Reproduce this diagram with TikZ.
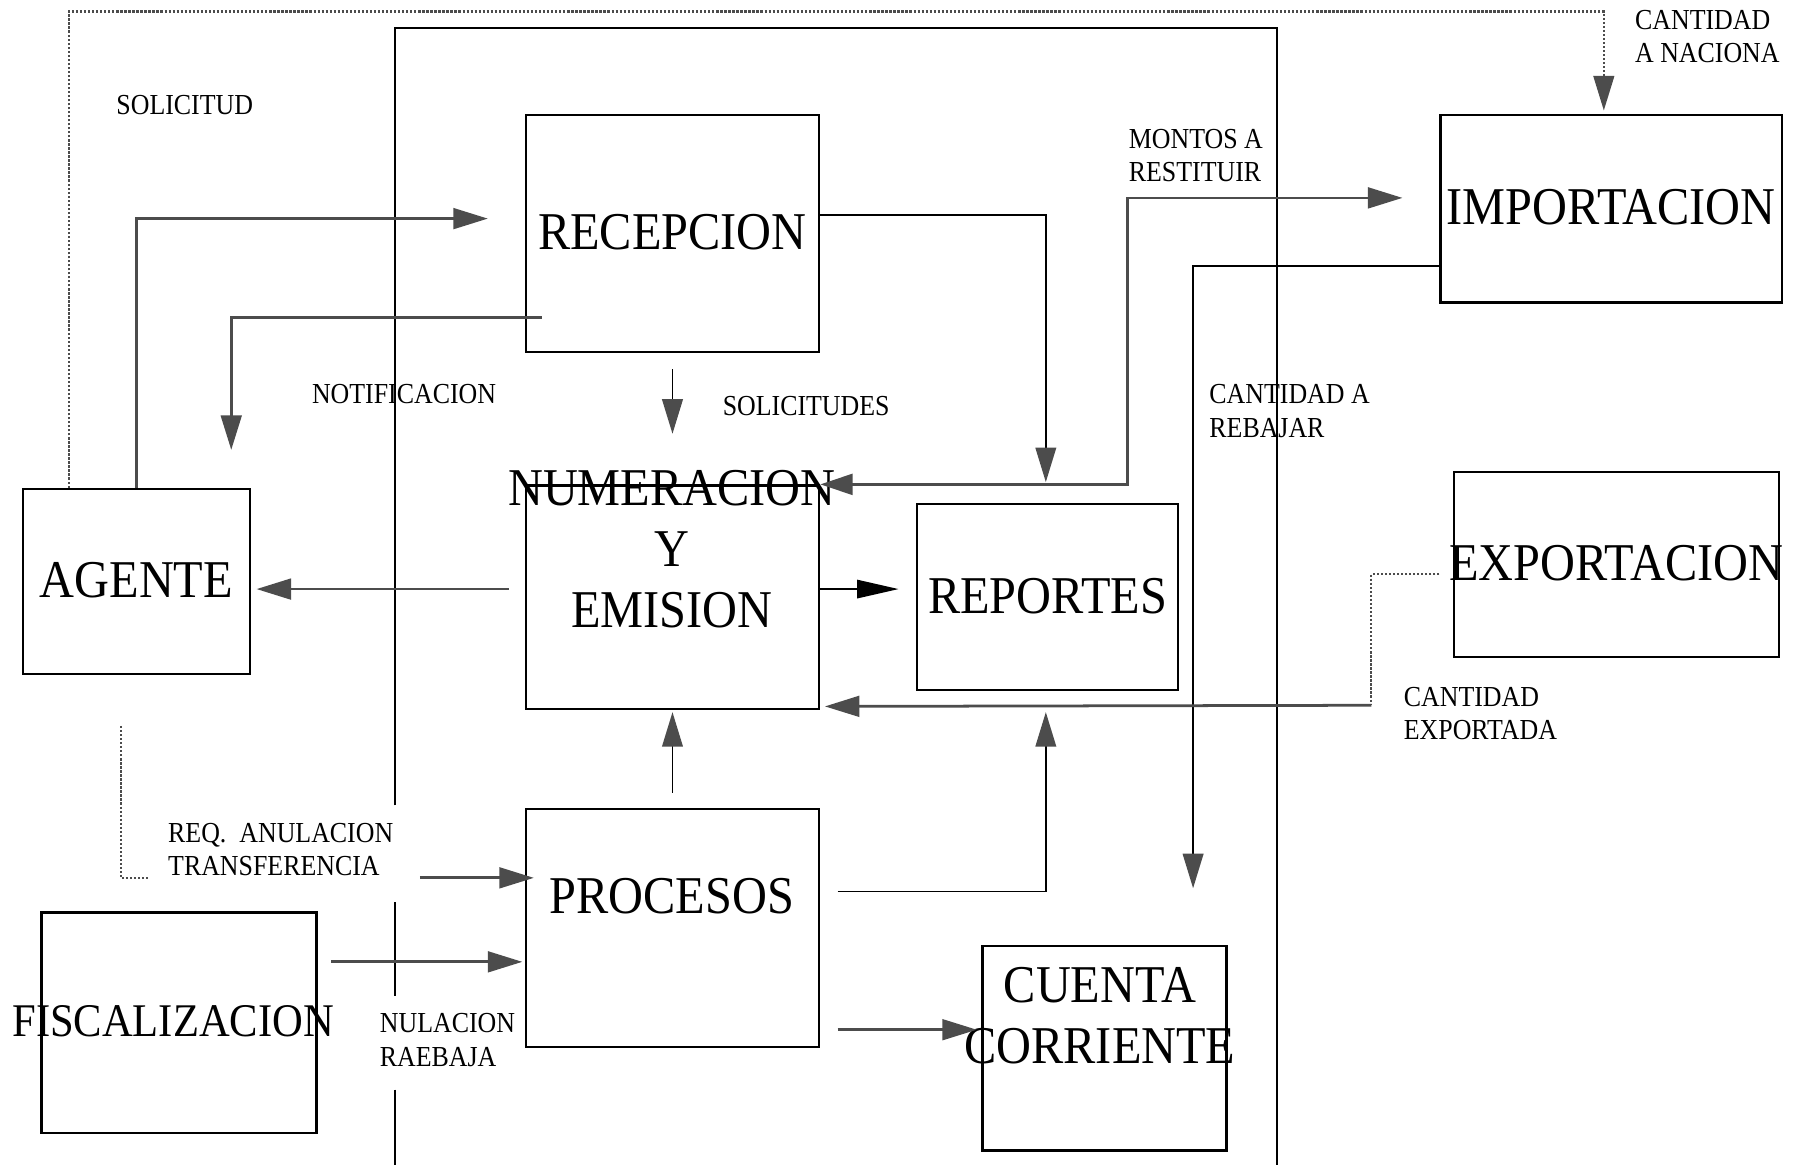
\documentclass[tikz,border=0pt]{standalone}
\usepackage{fontspec}
\setmainfont{Liberation Serif}
\usetikzlibrary{arrows.meta, calc}

\newcommand{\boxtext}[1]{\makebox[0pt]{\scalebox{1}[1.1]{\begin{tabular}{@{}c@{}}#1\end{tabular}}}}
\newcommand{\flowtext}[1]{\scalebox{1}[1.12]{\begin{tabular}{@{}l@{}}#1\end{tabular}}}

\begin{document}
\begin{tikzpicture}[x=1pt, y=-1pt,
  blk/.style={draw, line width=2pt, inner sep=0pt, text depth=13pt, font=\fontsize{42}{48}\selectfont},
  blktxt/.style={inner sep=0pt, yshift=-5pt, font=\fontsize{42}{48}\selectfont},
  lbl/.style={anchor=west, inner sep=0pt, yshift=-3pt, font=\fontsize{22.5}{26}\selectfont},
  frame/.style={draw, line width=1.6pt},
  flow/.style={draw=black!70, line width=2.4pt, -{Triangle[length=30pt, width=18pt]}},
  plain/.style={draw, line width=1.4pt},
  gtip/.style={-{Triangle[length=30pt, width=18pt, color=black!70]}},
  dots/.style={draw=black!70, line width=1.8pt, dash pattern=on 2pt off 1.5pt}
]
  \fill[white] (0,0) rectangle (1568,1013);
  \useasboundingbox (0,0) rectangle (1568,1013);

  % outer frame
  \draw[frame] (343,700) -- (343,24) -- (1110,24) -- (1110,1013);
  \draw[frame] (343,784) -- (343,866);
  \draw[frame] (343,947) -- (343,1013);

  % boxes
  \node[blk, minimum width=197pt, minimum height=161pt] (agente) at (118.5,505.5) {\boxtext{AGENTE}};
  \node[blk, minimum width=255pt, minimum height=206pt] (recepcion) at (584.5,203) {\boxtext{RECEPCION}};
  \node[blk, minimum width=255pt, minimum height=194pt] (numeracion) at (584.5,519) {};
  \node[blktxt] (numeracion-t) at (584,477) {\boxtext{NUMERACION\\Y\\EMISION}};
  \node[blk, minimum width=227pt, minimum height=162pt] (reportes) at (910.5,519) {\boxtext{REPORTES}};
  \node[blk, minimum width=297pt, minimum height=163pt] (importacion) at (1400.5,181.5) {\boxtext{IMPORTACION}};
  \node[blk, minimum width=282pt, minimum height=161pt] (exportacion) at (1405,490.5) {\boxtext{EXPORTACION}};
  \node[blk, minimum width=255pt, minimum height=207pt] (procesos) at (584.5,806.5) {};
  \node[blktxt] (procesos-t) at (584,778) {\boxtext{PROCESOS}};
  \node[blk, font=\fontsize{37}{44}\selectfont, minimum width=239pt, minimum height=192pt] (fiscalizacion) at (155.5,889) {\boxtext{\hspace*{-10pt}FISCALIZACION}};
  \node[blk, minimum width=212pt, minimum height=178pt] (cuenta) at (960,911) {};
  \node[blktxt] (cuenta-t) at (956,882) {\boxtext{CUENTA\\CORRIENTE}};

  % bend points
  \coordinate (solbend) at (60,10);
  \coordinate (montos) at (980,172);
  \coordinate (cantexp) at (1192,613);
  \coordinate (reqend) at (130,763);
  \coordinate (reqstart) at (365,763);

  % connectors
  \draw[dots, gtip, shorten >=3pt] (agente.north -| solbend) -- (solbend) -| ([xshift=-6.5pt]importacion.north);
  \draw[flow, shorten >=32pt] (agente.north) |- ([yshift=13pt]recepcion.west);
  \draw[flow, shorten >=33pt] ([xshift=15pt, yshift=-73pt]recepcion.west) -| ([xshift=82.5pt]agente.north);
  \draw[plain, gtip, shorten <=14pt, shorten >=44pt] (recepcion.south) -- (numeracion.north);
  \draw[plain, gtip, shorten >=18pt] ([yshift=16pt]recepcion.east) -| ([xshift=-1.5pt]reportes.north);
  \draw[flow, {Triangle[length=28pt, width=18pt]}-{Triangle[length=30pt, width=18pt]}, shorten >=32pt]
    (numeracion.north east) -| (montos) -- ([yshift=9.5pt]importacion.west);
  \draw[plain, gtip, shorten >=49pt] ([yshift=-49.5pt]importacion.west) -| ([xshift=77pt]cuenta.north);
  \draw[flow, shorten <=14pt, shorten >=5pt] ([yshift=7pt]numeracion.west) -- ([yshift=-6.5pt]agente.east);
  \draw[plain, -{Triangle[length=36pt, width=16pt]}, shorten >=15pt] ([yshift=7pt]numeracion.east) -- ([yshift=7pt]reportes.west);
  \draw[dots, shorten <=12pt] ([yshift=-8.5pt]exportacion.west) -| (cantexp);
  \draw[flow, shorten >=4pt] (cantexp) -- ([yshift=3pt]numeracion.south east);
  \draw[plain, gtip, shorten <=13pt, shorten >=2pt] (procesos.north) -- (numeracion.south);
  \draw[plain, gtip, shorten <=15pt, shorten >=18pt] ([yshift=31.5pt]procesos.east) -| ([xshift=-1.5pt]reportes.south);
  \draw[dots] ([xshift=-13.5pt, yshift=-44pt]agente.south) |- (reqend);
  \draw[flow] (reqstart) -- ([xshift=8pt, yshift=43.5pt]procesos.west);
  \draw[flow, shorten <=12pt, shorten >=2pt] ([yshift=53pt]fiscalizacion.east) -- ([yshift=-29.5pt]procesos.west);
  \draw[flow, shorten <=15pt, shorten >=4pt] ([yshift=-88.5pt]procesos.east) -- ([yshift=16pt]cuenta.west);

  % labels
  \node[lbl] (solicitud-l) at (101,91) {\flowtext{SOLICITUD}};
  \node[lbl] (notificacion-l) at (271,342) {\flowtext{NOTIFICACION}};
  \node[lbl] (solicitudes-l) at (628,352) {\flowtext{SOLICITUDES}};
  \node[lbl] (montos-l) at (981,134.5) {\flowtext{MONTOS A\\RESTITUIR}};
  \node[lbl] (nacional-l) at (1421,31) {\flowtext{CANTIDAD\\A NACIONA}};
  \node[lbl] (rebajar-l) at (1051,356.5) {\flowtext{CANTIDAD A\\REBAJAR}};
  \node[lbl] (exportada-l) at (1220,619.5) {\flowtext{CANTIDAD\\EXPORTADA}};
  \node[lbl] (anulacion-l) at (146,738) {\flowtext{REQ.\ \ ANULACION\\TRANSFERENCIA}};
  \node[lbl] (rebaja-l) at (330,903.5) {\flowtext{NULACION\\RAEBAJA}};
\end{tikzpicture}
\end{document}
